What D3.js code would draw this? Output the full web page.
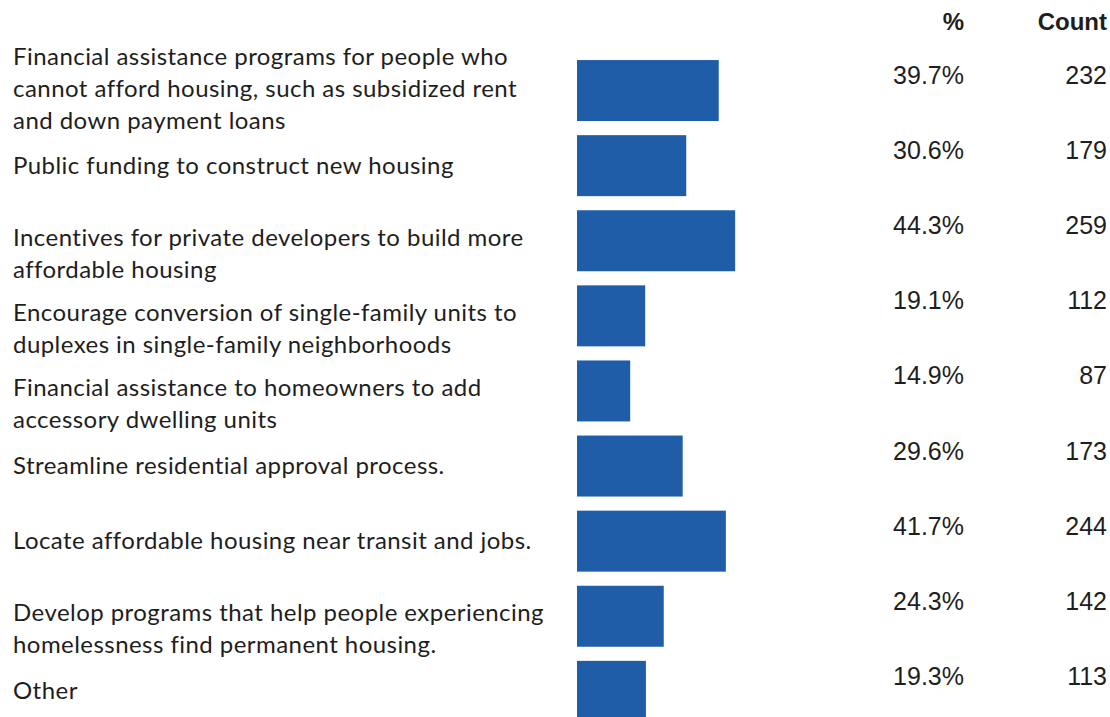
<!DOCTYPE html>
<html>
<head>
<meta charset="utf-8">
<script src="https://cdn.jsdelivr.net/npm/d3@7"></script>
<style>
  html, body { margin: 0; padding: 0; background: #fff; }
  svg { display: block; }
  text { fill: #1e1e1e; }
  .label { font-family: Lato, "Open Sans", sans-serif; }
  .num { font-family: "Liberation Sans", Arial, sans-serif; }
</style>
</head>
<body>
<svg id="chart" width="1110" height="717"></svg>
<script>
// Survey responses: one label per option, broken into display lines
const categories = [
  ["Financial assistance programs for people who", "cannot afford housing, such as subsidized rent", "and down payment loans"],
  ["Public funding to construct new housing"],
  ["Incentives for private developers to build more", "affordable housing"],
  ["Encourage conversion of single-family units to", "duplexes in single-family neighborhoods"],
  ["Financial assistance to homeowners to add", "accessory dwelling units"],
  ["Streamline residential approval process."],
  ["Locate affordable housing near transit and jobs."],
  ["Develop programs that help people experiencing", "homelessness find permanent housing."],
  ["Other"]
];
const percents = [39.7, 30.6, 44.3, 19.1, 14.9, 29.6, 41.7, 24.3, 19.3];
const counts = [232, 179, 259, 112, 87, 173, 244, 142, 113];
const headers = ["%", "Count"];

const svg = d3.select("#chart");

const rows = d3.range(categories.length);
const step = 75.1;
const y = d3.scaleBand()
  .domain(rows)
  .range([53, 53 + step * rows.length])
  .paddingInner(0.188)
  .paddingOuter(0.094);

const x = d3.scaleLinear().domain([0, 100]).range([577, 577 + 357]);

const pctRight = 964;
const countRight = 1107;
const lineH = 32;

// column headers
svg.append("text").attr("class", "num").attr("x", pctRight).attr("y", 21.5)
  .attr("dominant-baseline", "central")
  .attr("text-anchor", "end").attr("font-size", 24).attr("font-weight", 700)
  .text(headers[0]);
svg.append("text").attr("class", "num").attr("x", countRight).attr("y", 21.5)
  .attr("dominant-baseline", "central")
  .attr("text-anchor", "end").attr("font-size", 24).attr("font-weight", 700)
  .text(headers[1]);

const g = svg.append("g").selectAll("g").data(rows).join("g");

// bars
g.append("rect")
  .attr("x", x(0))
  .attr("y", i => y(i))
  .attr("width", i => x(percents[i]) - x(0))
  .attr("height", y.bandwidth())
  .attr("fill", "#1f5da8");

// category labels: single lines sit on the bar centre, wrapped lines start just above it
g.each(function(i) {
  const lines = categories[i];
  const c = y(i) + y.bandwidth() / 2;
  const shift = lines.length === 1 ? -2 : (lines.length === 2 ? -5 : -4);
  const first = c + shift - lineH * Math.floor((lines.length - 1) / 2);
  const t = d3.select(this).append("text")
    .attr("class", "label")
    .attr("x", 13)
    .attr("font-size", 24)
    .attr("letter-spacing", 0.45)
    .attr("dominant-baseline", "central");
  t.selectAll("tspan").data(lines).join("tspan")
    .attr("x", 13)
    .attr("y", (d, k) => first + k * lineH)
    .text(d => d);
});

// percent and count values
g.append("text")
  .attr("class", "num")
  .attr("x", pctRight)
  .attr("y", i => y(i) + 15)
  .attr("dominant-baseline", "central")
  .attr("text-anchor", "end")
  .attr("font-size", 25)
  .text(i => percents[i].toFixed(1) + "%");

g.append("text")
  .attr("class", "num")
  .attr("x", countRight)
  .attr("y", i => y(i) + 15)
  .attr("dominant-baseline", "central")
  .attr("text-anchor", "end")
  .attr("font-size", 25)
  .text(i => counts[i]);
</script>
</body>
</html>
